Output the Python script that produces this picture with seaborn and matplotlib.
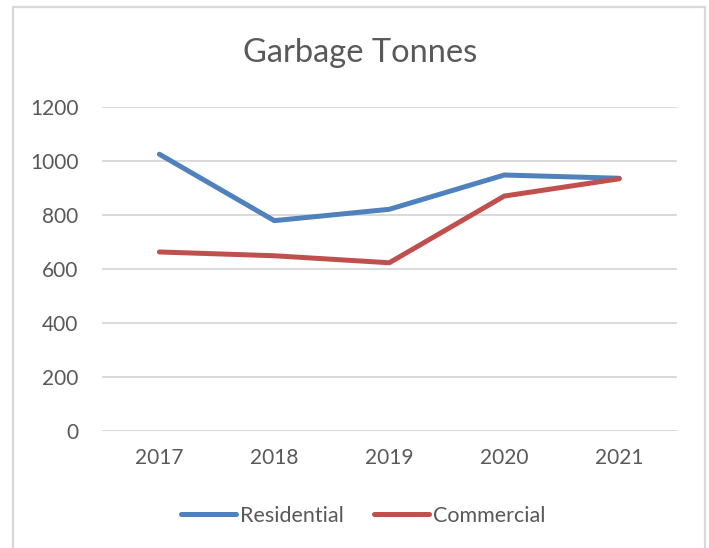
import matplotlib
matplotlib.use("Agg")
import matplotlib.pyplot as plt
from matplotlib.patches import Rectangle
import seaborn as sns
import pandas as pd

years = ["2017", "2018", "2019", "2020", "2021"]
residential = [1024, 778, 820, 947, 935]
commercial = [662, 648, 622, 869, 933]
series_names = ["Residential", "Commercial"]
y_ticks = [0, 200, 400, 600, 800, 1000, 1200]

df = pd.DataFrame({
    "Year": years * 2,
    "Tonnes": residential + commercial,
    "Series": [series_names[0]] * len(years) + [series_names[1]] * len(years),
})

sns.set_theme(style="white")
plt.rcParams["font.family"] = ["Lato", "DejaVu Sans"]

text_color = "#595959"
grid_color = "#d9d9d9"
tick_size = 15
legend_size = 15.5

fig = plt.figure(figsize=(7.09, 5.48), dpi=100)
ax = fig.add_axes([0.1437, 0.2140, 0.9544 - 0.1437, 0.8053 - 0.2140])

sns.lineplot(
    data=df, x="Year", y="Tonnes", hue="Series",
    palette={"Residential": "#4f81bd", "Commercial": "#c0504d"},
    linewidth=3.6, solid_capstyle="round", solid_joinstyle="round",
    sort=False, legend=True, ax=ax,
)

ax.set_xlim(-0.5, len(years) - 0.5)
ax.set_ylim(0, 1200)
ax.set_yticks(y_ticks)
ax.set_yticklabels([str(v) for v in y_ticks])
ax.set_xlabel("")
ax.set_ylabel("")
for s in ax.spines.values():
    s.set_visible(False)
ax.yaxis.grid(True, color=grid_color, linewidth=1.4)
ax.xaxis.grid(False)
ax.set_axisbelow(True)
ax.tick_params(axis="both", length=0, labelsize=tick_size, colors=text_color)
ax.tick_params(axis="y", pad=17)
ax.tick_params(axis="x", pad=12.5)
for line in ax.get_lines():
    line.set_clip_on(False)

handles, labels = ax.get_legend_handles_labels()
ax.get_legend().remove()
leg = fig.legend(
    handles, labels, loc="center", bbox_to_anchor=(363 / 709, 1 - 516 / 548),
    ncol=2, frameon=False, fontsize=legend_size, handlelength=2.55,
    handletextpad=0.2, columnspacing=1.4,
)
for t in leg.get_texts():
    t.set_color(text_color)
for h in leg.get_lines():
    h.set_linewidth(3.6)
    h.set_solid_capstyle("round")

fig.text(360 / 709, 1 - 53 / 548, "Garbage Tonnes", ha="center", va="center",
         fontsize=23.5, color=text_color)

fig.patches.append(Rectangle(
    (13 / 709, -0.05), (705 - 13) / 709, 1.05 - 7.5 / 548,
    transform=fig.transFigure, fill=False, edgecolor=grid_color, linewidth=1.6,
))

fig.savefig("out.png", dpi=100)
